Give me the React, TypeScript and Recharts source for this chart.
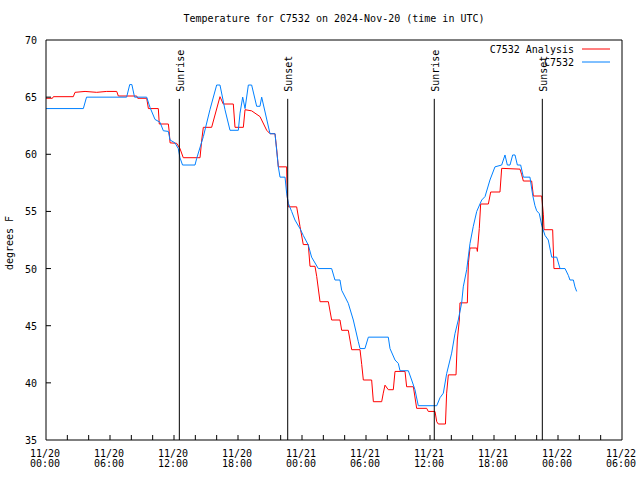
import React from 'react'
import {
  LineChart,
  Line,
  XAxis,
  YAxis,
  ReferenceLine,
  Legend,
} from 'recharts'

const FONT = '"DejaVu Sans Mono", monospace'

// hours since 11/20 00:00 UTC and temperatures (F)
const obsHours = [
  0, 3.5, 3.8, 7.56, 7.85, 8.05, 8.3, 9.44, 9.75, 10.22, 10.69, 11.0, 11.47, 11.63,
  12.09, 12.4, 12.56, 12.8, 13.97, 14.13, 14.75, 15.37, 16.0, 16.31, 16.78, 17.25,
  18.03, 18.19, 18.44, 18.66, 18.97, 19.28, 19.75, 20.06, 20.22, 21.0, 21.47, 21.78,
  21.94, 22.41, 22.56, 22.72, 23.03, 23.34, 23.81, 24.12, 24.59, 24.9, 25.53, 26.78,
  27.09, 27.56, 27.72, 28.34, 28.81, 29.28, 29.44, 29.9, 30.22, 32.09, 32.25, 32.72,
  33.03, 33.19, 33.97, 34.28, 34.59, 34.9, 36.63, 36.94, 37.25, 37.56, 38.03, 38.34,
  38.65, 38.97, 39.12, 39.44, 39.75, 40.06, 40.38, 40.85, 41.16, 41.62, 42.09, 42.72,
  43.03, 43.25, 43.5, 43.75, 43.97, 44.19, 44.5, 44.75, 45.37, 45.63, 45.84, 46.0,
  46.25, 46.47, 46.78, 47.09, 47.41, 47.88, 48.19, 48.66, 48.97, 49.12, 49.44, 49.59,
  49.75,
]
const obsTemps = [
  64.0, 64.0, 65.0, 65.0, 66.1, 66.1, 65.0, 65.0, 64.1, 63.05, 62.8, 62.06, 62.0, 61.25,
  61.0, 60.5, 59.7, 59.06, 59.06, 59.65, 61.54, 63.9, 66.06, 66.06, 63.9, 62.1,
  62.1, 63.6, 65.0, 64.0, 66.06, 66.06, 64.2, 64.2, 65.0, 61.8, 61.8, 58.9,
  58.0, 58.0, 56.6, 55.7, 55.0, 54.25, 53.5, 52.9, 52.06, 51.0, 50.0, 50.0,
  49.0, 49.0, 48.1, 46.96, 45.5, 43.6, 43.0, 43.0, 44.0, 44.0, 43.0, 42.0,
  41.7, 41.06, 41.06, 40.25, 39.4, 38.0, 38.0, 38.7, 39.1, 40.8, 42.6, 44.3,
  45.5, 47.0, 48.4, 49.9, 52.2, 53.7, 55.0, 56.0, 56.3, 57.75, 58.9, 59.06,
  59.94, 59.06, 59.06, 59.94, 59.94, 59.06, 59.06, 58.0, 58.0, 56.4, 55.5, 55.06,
  54.8, 53.8, 52.9, 52.5, 51.0, 51.0, 50.0, 50.0, 49.4, 49.0, 49.0, 48.4,
  48.0,
]

const anaHours = [
  0, 0.6, 0.69, 2.56, 2.72, 3.66, 4.75, 5.69, 6.63, 6.78, 8.5, 8.6, 9.44, 9.6, 10.53,
  10.62, 11.47, 11.55, 11.63, 12.25, 12.56, 12.87, 14.44, 14.6, 14.75, 15.53, 16.31,
  16.62, 17.56, 17.72, 18.5, 18.66, 19.28, 20.06, 20.69, 21.0, 21.47, 21.63, 21.78,
  22.56, 22.62, 22.72, 23.5, 23.81, 24.12, 24.59, 24.75, 25.22, 25.38, 25.69, 26.47,
  26.78, 27.56, 27.72, 28.34, 28.66, 29.44, 29.6, 29.75, 30.53, 30.69, 31.47, 31.62,
  31.78, 32.09, 32.56, 32.72, 33.66, 33.81, 34.44, 34.75, 35.69, 35.84, 36.47, 36.63,
  36.78, 37.45, 37.56, 37.72, 38.44, 38.56, 38.75, 38.81, 39.5, 39.6, 39.75, 40.38,
  40.44, 40.62, 40.75, 41.47, 41.69, 42.56, 42.72, 44.44, 44.6, 44.75, 45.53, 45.69,
  46.47, 46.63, 46.69, 47.5, 47.62, 48.19,
]
const anaTemps = [
  64.9, 64.9, 65.04, 65.04, 65.42, 65.5, 65.42, 65.5, 65.5, 65.1, 65.1, 64.9, 64.9, 64.0, 64.0,
  62.65, 62.65, 62.0, 61.0, 60.96, 60.5, 59.7, 59.7, 61.25, 62.36, 62.36, 65.04,
  64.4, 64.4, 62.36, 62.36, 63.9, 63.8, 63.3, 62.1, 61.8, 61.8, 60.4, 58.9,
  58.9, 56.3, 55.4, 55.4, 53.7, 52.1, 52.1, 50.2, 50.2, 49.3, 47.1, 47.1,
  45.5, 45.5, 44.6, 44.6, 42.9, 42.9, 41.6, 40.25, 40.25, 38.35, 38.35, 39.1,
  39.8, 39.4, 39.4, 41.0, 41.0, 39.66, 39.66, 37.77, 37.77, 37.5, 37.5, 36.6,
  36.4, 36.4, 39.1, 40.7, 40.7, 43.75, 45.5, 47.0, 47.0, 50.5, 51.8, 51.8,
  51.5, 53.5, 55.65, 55.65, 56.7, 56.7, 58.77, 58.7, 58.2, 57.66, 57.66, 56.35,
  56.35, 54.7, 53.4, 53.4, 50.0, 50.0,
]

const seriesNames = ['C7532 Analysis', 'C7532']

const sunHours = [12.5, 22.66, 36.4, 46.53]
const sunNames = ['Sunrise', 'Sunset', 'Sunrise', 'Sunset']
const sunLineTop = 64.85

const hourTicks = [0, 2, 4, 6, 8, 10, 12, 14, 16, 18, 20, 22, 24, 26, 28, 30, 32, 34, 36, 38, 40, 42, 44, 46, 48, 50, 52, 54]
const tempTicks = [35, 40, 45, 50, 55, 60, 65, 70]

const obsData = obsHours.map((h, i) => ({ h, t: obsTemps[i] }))
const anaData = anaHours.map((h, i) => ({ h, t: anaTemps[i] }))

const pad = (n: number) => (n < 10 ? `0${n}` : `${n}`)
const dayLabel = (h: number) => `11/${20 + Math.floor(h / 24)}`
const timeLabel = (h: number) => `${pad(h % 24)}:00`

const TICK = 5

const BottomTick = (props: any) => {
  const { x, y, payload } = props
  const h = payload.value
  return (
    <g>
      {h > 0 && h < 54 && <line x1={x} y1={y} x2={x} y2={y - TICK} stroke="#000" />}
      {h % 6 === 0 && (
        <text x={x - 1} y={y + 17} textAnchor="middle" fontSize={10} fontFamily={FONT} fill="#000">
          <tspan x={x - 1}>{dayLabel(h)}</tspan>
          <tspan x={x - 1} dy={10}>{timeLabel(h)}</tspan>
        </text>
      )}
    </g>
  )
}

const TopTick = (props: any) => {
  const { x, y, payload } = props
  const h = payload.value
  if (h <= 0 || h >= 54) return <g />
  return <line x1={x} y1={y} x2={x} y2={y + TICK} stroke="#000" />
}

const LeftTick = (props: any) => {
  const { x, y, payload } = props
  const v = payload.value
  return (
    <g>
      {v > 35 && v < 70 && <line x1={x} y1={y} x2={x + TICK} y2={y} stroke="#000" />}
      <text x={x - 9} y={y + 4} textAnchor="end" fontSize={10} fontFamily={FONT} fill="#000">
        {v}
      </text>
    </g>
  )
}

const RightTick = (props: any) => {
  const { x, y, payload } = props
  const v = payload.value
  if (v <= 35 || v >= 70) return <g />
  return <line x1={x} y1={y} x2={x - TICK} y2={y} stroke="#000" />
}

const SunLabel = (props: any) => {
  const { viewBox, text } = props
  if (!viewBox) return null
  const x = viewBox.x + 1
  const y = viewBox.y - 7
  return (
    <text
      x={x}
      y={y}
      transform={`rotate(-90 ${x} ${y})`}
      textAnchor="start"
      dominantBaseline="central"
      fontSize={10}
      fontFamily={FONT}
      fill="#000"
    >
      {text}
    </text>
  )
}

const renderLegend = (props: any) => {
  const items = [...(props.payload || [])].sort(
    (a: any, b: any) => seriesNames.indexOf(a.value) - seriesNames.indexOf(b.value)
  )
  return (
    <svg width={150} height={30} style={{ display: 'block', overflow: 'visible' }}>
      {items.map((item: any, i: number) => (
        <g key={item.value}>
          <text
            x={104}
            y={7 + i * 13}
            dominantBaseline="central"
            textAnchor="end"
            fontSize={10}
            fontFamily={FONT}
            fill="#000"
          >
            {item.value}
          </text>
          <line x1={112} y1={7 + i * 13} x2={140} y2={7 + i * 13} stroke={item.color} strokeWidth={1} />
        </g>
      ))}
    </svg>
  )
}

export default function App() {
  return (
    <div style={{ position: 'absolute', left: 0, top: 0, width: 640, height: 480, background: '#fff' }}>
      <LineChart width={640} height={480} margin={{ top: 0, right: 0, bottom: 0, left: 0 }}>
        <XAxis
          dataKey="h"
          type="number"
          domain={[0, 54]}
          ticks={hourTicks}
          interval={0}
          height={40}
          tickSize={0}
          tickMargin={0}
          tickLine={false}
          axisLine={{ stroke: '#000' }}
          tick={<BottomTick />}
        />
        <XAxis
          xAxisId="top"
          orientation="top"
          dataKey="h"
          type="number"
          domain={[0, 54]}
          ticks={hourTicks}
          interval={0}
          height={40}
          tickSize={0}
          tickMargin={0}
          tickLine={false}
          axisLine={{ stroke: '#000' }}
          tick={<TopTick />}
        />
        <YAxis
          type="number"
          domain={[35, 70]}
          ticks={tempTicks}
          interval={0}
          width={46}
          tickSize={0}
          tickMargin={0}
          tickLine={false}
          axisLine={{ stroke: '#000' }}
          tick={<LeftTick />}
        />
        <YAxis
          yAxisId="right"
          orientation="right"
          type="number"
          domain={[35, 70]}
          ticks={tempTicks}
          interval={0}
          width={18}
          tickSize={0}
          tickMargin={0}
          tickLine={false}
          axisLine={{ stroke: '#000' }}
          tick={<RightTick />}
        />
        <Legend
          layout="vertical"
          align="center"
          verticalAlign="middle"
          content={renderLegend}
          wrapperStyle={{ top: 42, left: 470, width: 150 }}
        />
        <Line
          data={anaData}
          dataKey="t"
          name={seriesNames[0]}
          type="linear"
          stroke="#ff0000"
          strokeWidth={1}
          dot={false}
          activeDot={false}
          isAnimationActive={false}
        />
        <Line
          data={obsData}
          dataKey="t"
          name={seriesNames[1]}
          type="linear"
          stroke="#0080ff"
          strokeWidth={1}
          dot={false}
          activeDot={false}
          isAnimationActive={false}
        />
        {sunHours.map((h, i) => (
          <ReferenceLine
            key={`sun-${i}`}
            segment={[
              { x: h, y: 35 },
              { x: h, y: sunLineTop },
            ]}
            stroke="#000"
            strokeWidth={1}
            label={<SunLabel text={sunNames[i]} />}
          />
        ))}
      </LineChart>
      <svg
        width={640}
        height={480}
        style={{ position: 'absolute', left: 0, top: 0, pointerEvents: 'none' }}
      >
        <text x={334} y={22} textAnchor="middle" fontSize={10} fontFamily={FONT} fill="#000">
          Temperature for C7532 on 2024-Nov-20 (time in UTC)
        </text>
        <text
          x={13}
          y={243}
          transform="rotate(-90 13 243)"
          textAnchor="middle"
          fontSize={10}
          fontFamily={FONT}
          fill="#000"
        >
          degrees F
        </text>
      </svg>
    </div>
  )
}
